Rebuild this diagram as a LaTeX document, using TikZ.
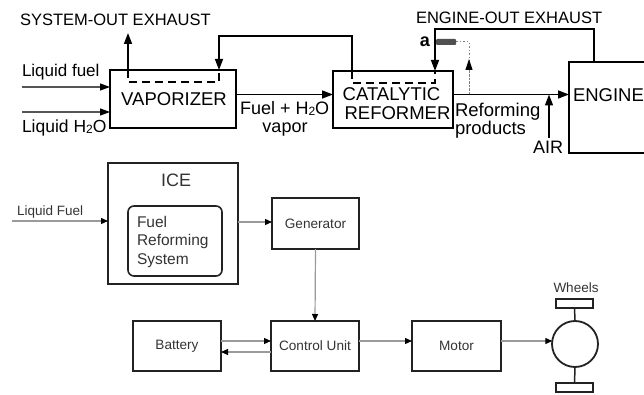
\documentclass[tikz,border=0pt]{standalone}
\usepackage{fontspec}
\setmainfont{Liberation Sans}
\usetikzlibrary{arrows.meta,calc}
\definecolor{lgray}{HTML}{9A9A9A}
\definecolor{tgray}{HTML}{333333}
\definecolor{bgray}{HTML}{222222}
\definecolor{bargray}{HTML}{505050}
\definecolor{ingray}{HTML}{555555}
\newcommand{\myfs}[1]{\fontsize{#1}{#1}\selectfont}
\newcommand{\hsub}{{\fontsize{12}{12}\selectfont\raisebox{-1pt}{2}}}
\begin{document}
\begin{tikzpicture}[x=1pt,y=-1pt,
  bx/.style={draw=black,line width=1.7pt,inner sep=0pt,outer sep=0pt},
  bbx/.style={draw=bgray,line width=1.8pt,inner sep=0pt,outer sep=0pt,text=tgray,font=\myfs{13.6}},
  tx/.style={inner sep=0pt,outer sep=0pt},
  tarr/.style={line width=1.5pt,-{Triangle[length=11pt,width=8pt]}},
  larr/.style={draw=ingray,line width=1.2pt,-{Triangle[length=10pt,width=7pt,color=black]}},
  barr/.style={draw=lgray,line width=1.2pt,-{Triangle[length=7pt,width=6pt,color=black]}},
  dsh/.style={line width=1.5pt,dash pattern=on 8pt off 5pt},
  dotline/.style={draw=gray,line width=1pt,dash pattern=on 1.5pt off 2pt},
  stem/.style={draw=bgray,line width=1.5pt}]
\useasboundingbox (0,0) rectangle (644,395);

% ---------- top diagram ----------
\node[bx,minimum width=126pt,minimum height=58pt] (vap) at (173,99) {};
\node[bx,minimum width=120pt,minimum height=57pt] (cat) at (393,99.5) {};
\node[bx,minimum width=79pt,minimum height=91pt] (eng) at (608.5,107.5) {};

\node[tx,anchor=base west,font=\myfs{16.5}] (sysout) at (20,26) {SYSTEM-OUT EXHAUST};
\node[tx,anchor=base west,font=\myfs{16.5}] (eout) at (416,24) {ENGINE-OUT EXHAUST};
\node[tx,anchor=base west,font=\myfs{17}] (lf) at (22,77) {Liquid fuel};
\node[tx,anchor=base west,font=\myfs{17.5}] (lh) at (22,133) {Liquid H\hsub O};
\node[tx,anchor=base,font=\myfs{18.5}] (vaptx) at (174,106) {VAPORIZER};
\node[tx,anchor=base west,font=\myfs{18}] (fh) at (240,115) {Fuel + H\hsub O};
\node[tx,anchor=base,font=\myfs{18}] (vapor) at (285,133) {vapor};
\node[tx,anchor=base,font=\myfs{18.5}] (cat1) at (391.5,101) {CATALYTIC};
\node[tx,anchor=base,font=\myfs{18.5}] (cat2) at (397.5,120) {REFORMER};
\node[tx,anchor=base west,font=\myfs{18.5}] (engtx) at (573,102) {ENGINE};
\node[tx,anchor=base east,font=\bfseries\myfs{18}] (alab) at (430,47) {a};
\node[tx,anchor=base west,font=\myfs{18.5}] (ref1) at (455,117) {Reforming};
\node[tx,anchor=base west,font=\myfs{18.5}] (ref2) at (455,135) {products};
\node[tx,anchor=base west,font=\myfs{18}] (air) at (533,154) {AIR};

\coordinate (ml) at (0,94.5);
\coordinate (exTop) at (128,33);
\coordinate (fbR) at (352,36);
\coordinate (fbL) at (219,36);
\coordinate (eoR) at (594,29);
\coordinate (eoL) at (435,29);
\coordinate (lf1) at (22,87);
\coordinate (lf2) at (22,112);
\coordinate (airb) at (549,138);
\coordinate (dt) at (469,42);
\coordinate (dtip) at (469,59);

\draw[tarr] (vap.north -| exTop) -- (exTop);
\draw[dsh] (vap.north -| exTop) -- ++(0,12) -| (vap.north -| fbL);
\draw[tarr] (cat.north -| fbR) -- (fbR) -- (fbL) -- (vap.north -| fbL);
\draw[dsh] (cat.north -| fbR) -- ++(0,12) -| (cat.north -| eoL);
\draw[tarr] (eng.north -| eoR) -- (eoR) -- (eoL) -- (cat.north -| eoL);

\node[fill=bargray,inner sep=0pt,outer sep=0pt,minimum width=20pt,minimum height=6pt,anchor=west,rounded corners=1pt] (bar) at (436,42) {};
\draw[dotline] (bar.east) -- (dt) -- (dt |- ml);
\draw[dotline,-{Triangle[length=11pt,width=7pt,color=black]}] (dt |- ml) -- (dtip);

\draw[tarr] (vap.east |- ml) -- (cat.west |- ml);
\draw[tarr] (cat.east |- ml) -- (eng.west |- ml);
\draw[tarr] (airb) -- (airb |- ml);
\draw[larr] (lf1) -- (vap.west |- lf1);
\draw[larr] (lf2) -- (vap.west |- lf2);

% ---------- bottom diagram ----------
\node[bbx,minimum width=130pt,minimum height=121pt] (ice) at (173,223.5) {};
\node[draw=bgray,line width=1.6pt,rounded corners=6pt,inner sep=0pt,outer sep=0pt,minimum width=94pt,minimum height=70pt] (frs) at (175,241) {};
\node[tx,anchor=base,font=\myfs{18},text=tgray] (icetx) at (176,186) {ICE};
\node[tx,anchor=base west,font=\fontsize{15.5}{18.5}\selectfont,text=tgray,align=left] (frstx) at (137,264) {Fuel\\Reforming\\System};
\node[tx,anchor=base west,font=\myfs{13.5},text=tgray] (lftx) at (17,215) {Liquid Fuel};

\node[bbx,minimum width=87pt,minimum height=51pt] (gen) at (315.5,223.5) {Generator};
\node[bbx,minimum width=88pt,minimum height=50pt] (ctrl) at (315,346) {\raisebox{-2pt}{Control Unit}};
\node[bbx,minimum width=88pt,minimum height=50pt] (bat) at (177,346) {\raisebox{-2pt}{Battery}};
\node[bbx,minimum width=89pt,minimum height=50pt] (mot) at (456.5,346) {Motor};

\node[circle,draw=bgray,line width=1.8pt,minimum size=46pt,inner sep=0pt,outer sep=0pt] (whc) at (575,344) {};
\node[draw=bgray,line width=1.6pt,inner sep=0pt,outer sep=0pt,minimum width=37pt,minimum height=9pt] (wt) at (574.5,303.5) {};
\node[draw=bgray,line width=1.6pt,inner sep=0pt,outer sep=0pt,minimum width=37pt,minimum height=9pt] (wb) at (574.5,387.5) {};
\node[tx,font=\myfs{13.5},text=tgray] (whtx) at (576,288) {Wheels};

\coordinate (lfb) at (12,221);
\coordinate (b1) at (0,341);
\coordinate (b2) at (0,352);
\coordinate (g1) at (0,222);

\draw[barr] (lfb) -- (ice.west |- lfb);
\draw[barr] (ice.east |- g1) -- (gen.west |- g1);
\draw[barr] (gen.south) -- (ctrl.north);
\draw[barr] (bat.east |- b1) -- (ctrl.west |- b1);
\draw[barr] (ctrl.west |- b2) -- (bat.east |- b2);
\draw[barr] (ctrl.east |- b1) -- (mot.west |- b1);
\draw[barr] (mot.east |- b1) -- ($(whc.west |- b1)+(0.3,0)$);
\draw[stem] (whc.north) -- (wt.south);
\draw[stem] (whc.south) -- (wb.north);
\end{tikzpicture}
\end{document}
